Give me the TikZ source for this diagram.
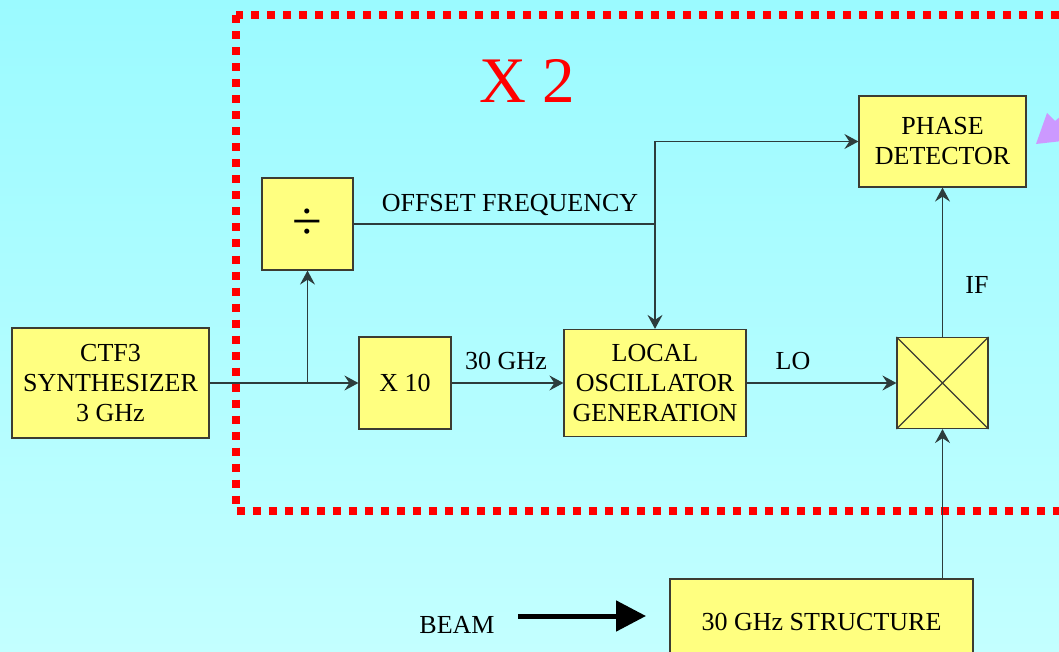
\documentclass[tikz,border=0pt]{standalone}
\usepackage{fontspec}
\setmainfont{Liberation Serif}
\usetikzlibrary{arrows.meta}
\definecolor{boxfill}{RGB}{255,255,128}
\definecolor{boxline}{RGB}{60,60,50}
\definecolor{wire}{RGB}{45,60,60}
\definecolor{bgtop}{RGB}{155,250,255}
\definecolor{bgbot}{RGB}{195,255,255}
\definecolor{lav}{RGB}{204,153,255}
\begin{document}
\begin{tikzpicture}[x=1pt,y=-1pt,
  blk/.style={draw=boxline,fill=boxfill,line width=1.2pt,inner sep=0pt,align=center,
    font=\fontsize{26}{30}\selectfont},
  lbl/.style={inner sep=0pt,anchor=base,font=\fontsize{26}{30}\selectfont},
  wirearrow/.style={draw=wire,line width=1.2pt,-{Stealth[length=14pt,width=15pt,inset=5pt]}},
  wireline/.style={draw=wire,line width=1.2pt}]
\useasboundingbox (0,0) rectangle (1059,652);
\clip (0,0) rectangle (1059,652);
\shade[top color=bgtop,bottom color=bgbot] (0,0) rectangle (1059,652);
% red dashed frame
\draw[red,line width=8pt,dash pattern=on 8pt off 8pt] (236,15.5) rectangle (1080,511);
\node[inner sep=0pt,anchor=base,text=red,font=\fontsize{65}{70}\selectfont] (x2) at (527,103) {X 2};
% blocks
\node[blk,minimum width=197pt,minimum height=110pt] (ctf) at (110.5,383) {CTF3\\SYNTHESIZER\\3 GHz};
\node[blk,minimum width=91pt,minimum height=92pt,font=\fontsize{54}{54}\selectfont] (div) at (307.5,224) {÷};
\node[blk,minimum width=92pt,minimum height=92pt] (x10) at (405,383) {X 10};
\node[blk,minimum width=182pt,minimum height=107pt] (lo) at (655,383) {LOCAL\\OSCILLATOR\\GENERATION};
\node[blk,minimum width=91pt,minimum height=91pt] (mix) at (942.5,383) {};
\draw[boxline,line width=1.1pt] (mix.north west) -- (mix.south east) (mix.north east) -- (mix.south west);
\node[blk,minimum width=167pt,minimum height=91pt] (pd) at (942.5,141.5) {PHASE\\DETECTOR};
\node[blk,minimum width=303pt,minimum height=86pt] (str) at (821.5,622) {30 GHz STRUCTURE};
% labels
\node[lbl] (off) at (510,212) {OFFSET FREQUENCY};
\node[lbl] (ghz) at (506,369) {30 GHz};
\node[lbl] (lol) at (793,369) {LO};
\node[lbl] (ifl) at (977,293) {IF};
\node[lbl] (beam) at (457,633) {BEAM};
% connectors
\coordinate (b1) at (div.south |- x10.west);
\coordinate (j1) at (lo.north |- div.east);
\draw[wirearrow] (ctf.east) -- (x10.west);
\draw[wirearrow] (b1) -- (div.south);
\draw[wireline] (div.east) -- (j1);
\draw[wirearrow] (j1) |- (pd.west);
\draw[wirearrow] (j1) -- (lo.north);
\draw[wirearrow] (x10.east) -- (lo.west);
\draw[wirearrow] (lo.east) -- (mix.west);
\draw[wirearrow] (mix.north) -- (pd.south);
\draw[wirearrow] (mix.south |- str.north) -- (mix.south);
% beam arrow
\coordinate (bs) at (518,616);
\coordinate (be) at (646,616);
\draw[line width=5pt,-{Triangle[length=30pt,width=30pt]}] (bs) -- (be);
% lavender arrow (partly outside)
\fill[lav] (1036,144) -- (1047,113) -- (1055,121) -- (1080,100) -- (1090,114) -- (1064,134) -- (1071,140) -- cycle;
\end{tikzpicture}
\end{document}
